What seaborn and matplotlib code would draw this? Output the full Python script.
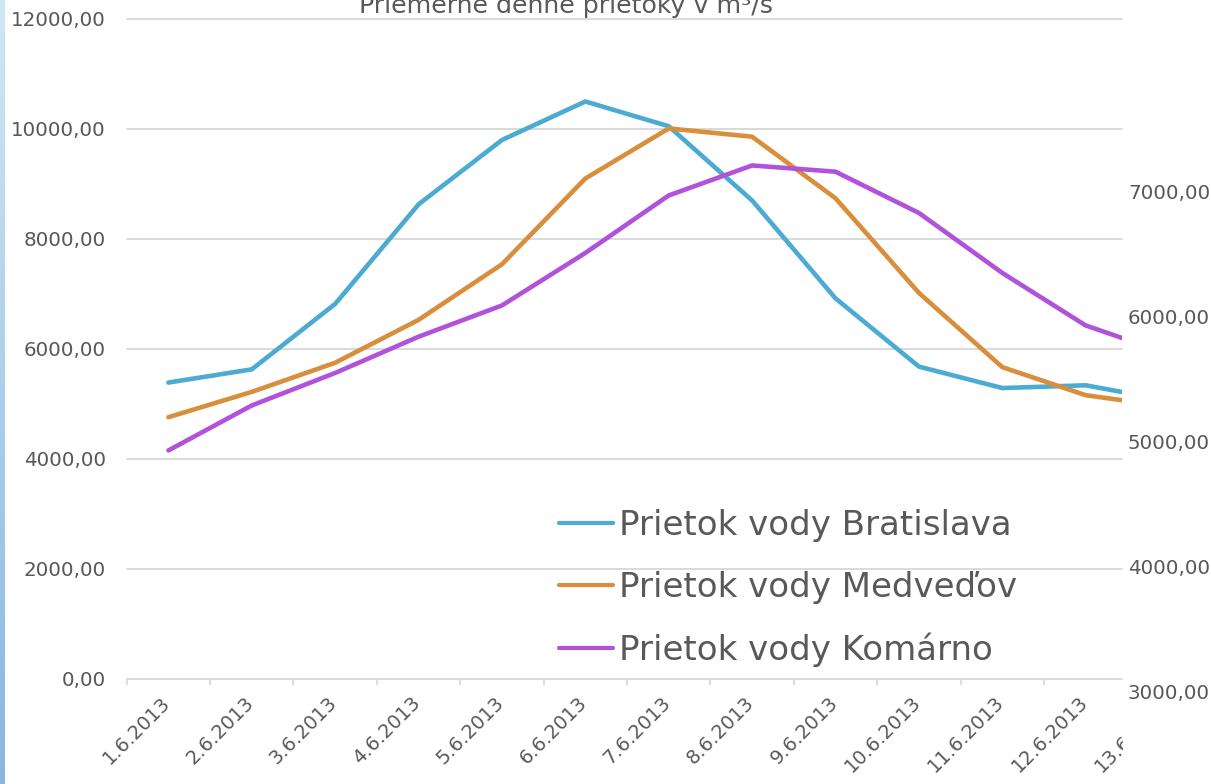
import numpy as np
import pandas as pd
import seaborn as sns
import matplotlib.pyplot as plt
from matplotlib.colors import LinearSegmentedColormap
from matplotlib.transforms import Bbox, offset_copy

## Data (m3/s per day)
dates = ['1.6.2013', '2.6.2013', '3.6.2013', '4.6.2013', '5.6.2013', '6.6.2013', '7.6.2013',
         '8.6.2013', '9.6.2013', '10.6.2013', '11.6.2013', '12.6.2013', '13.6.2013']
bratislava = [5390, 5630, 6820, 8630, 9800, 10500, 10050, 8700, 6920, 5680, 5290, 5340, 5060]
medvedov = [4760, 5220, 5750, 6530, 7540, 9100, 10010, 9860, 8740, 7020, 5670, 5160, 4950]
komarno = [4930, 5290, 5550, 5840, 6090, 6510, 6970, 7210, 7160, 6830, 6350, 5930, 5700]  # right axis

left_ticks = [0, 2000, 4000, 6000, 8000, 10000, 12000]
right_ticks = [3000, 4000, 5000, 6000, 7000]

title = 'Priemerné denné prietoky v m³/s'
labels = ['Prietok vody Bratislava', 'Prietok vody Medveďov', 'Prietok vody Komárno']
colors = ['#4BABD3', '#D98E3B', '#B152DA']
text_col = '#595959'
grid_col = '#D9D9D9'

df = pd.DataFrame({'den': dates, 'pos': np.arange(len(dates)),
                   'Bratislava': bratislava, 'Medvedov': medvedov, 'Komarno': komarno})

sns.set_style('white')
plt.rcParams['font.family'] = ['DejaVu Sans']

W, H = 1211, 784
fig = plt.figure(figsize=(W / 100, H / 100), dpi=100)

# plot area in pixels
x0, x1 = 126.7, 1121.7
y_top, y_bot = 19, 679
ax = fig.add_axes([x0 / W, 1 - y_bot / H, (x1 - x0) / W, (y_bot - y_top) / H])
# secondary axis: its labels sit a bit lower than the primary grid
y2_bot = 700
ax2 = fig.add_axes([x0 / W, 1 - y2_bot / H, (x1 - x0) / W, (y2_bot - y_top) / H])
ax2.patch.set_visible(False)

sns.lineplot(data=df, x='pos', y='Bratislava', ax=ax, color=colors[0], linewidth=3.3,
             solid_capstyle='round', label=labels[0])
sns.lineplot(data=df, x='pos', y='Medvedov', ax=ax, color=colors[1], linewidth=3.3,
             solid_capstyle='round', label=labels[1])
sns.lineplot(data=df, x='pos', y='Komarno', ax=ax2, color=colors[2], linewidth=3.3,
             solid_capstyle='round', label=labels[2])

xlim = (-0.5, (x1 - 168.3) / 83.4)
ax.set_xlim(xlim)
ax2.set_xlim(xlim)
ax.set_ylim(0, 12000)
ax2.set_ylim(3000 - (y2_bot - 691.7) / 0.125, 3000 + (691.7 - y_top) / 0.125)

# primary axis styling
for s in ax.spines.values():
    s.set_visible(False)
for s in ax2.spines.values():
    s.set_visible(False)
ax.set_yticks(left_ticks)
ax.set_yticklabels([f'{v},00' for v in left_ticks])
ax.grid(axis='y', color=grid_col, linewidth=1.4)
for gl in ax.get_ygridlines():
    gl.set_clip_on(False)
ax.tick_params(axis='y', length=0, pad=15, labelsize=14.3, labelcolor=text_col)

lab_shift = 0.07  # rotated labels end slightly right of the category centre
ax.set_xticks(df.pos[:-1] + lab_shift)
ax.set_xticklabels(df.den[:-1])
ax.set_xticks(np.arange(-0.5, 11.5, 1), minor=True)
ax.tick_params(axis='x', which='major', length=0, pad=10, labelsize=14, labelcolor=text_col)
ax.tick_params(axis='x', which='minor', bottom=True, length=4.5, width=1.3, color=grid_col, direction='out')
plt.setp(ax.get_xticklabels(), rotation=45, ha='right')
ax.set_xlabel('')
ax.set_ylabel('')

# last date label is cut by the chart area
t = fig.text(df.pos.iloc[-1] + lab_shift, 0, dates[-1], rotation=45, ha='right', va='top',
             fontsize=14, color=text_col,
             transform=offset_copy(ax.get_xaxis_transform(), fig=fig, y=-10, units='points'))
t.set_clip_on(True)
t.set_clip_box(Bbox([[0, 0], [x1 + 1, H]]))

# secondary axis styling
ax2.xaxis.set_visible(False)
ax2.yaxis.tick_right()
ax2.set_yticks(right_ticks)
ax2.set_yticklabels([f'{v},00' for v in right_ticks])
ax2.tick_params(axis='y', length=0, pad=4.5, labelsize=14.3, labelcolor=text_col)
ax2.grid(False)
ax2.set_ylabel('')

# legend
handles = []
for a in (ax, ax2):
    h, l = a.get_legend_handles_labels()
    handles += h
    if a.get_legend() is not None:
        a.get_legend().remove()
leg = ax2.legend(handles, labels, loc='upper left', bbox_to_anchor=(559 / W, 1 - 509 / H),
                 bbox_transform=fig.transFigure, frameon=False, fontsize=24.5, borderpad=0,
                 borderaxespad=0, handlelength=1.6, handletextpad=0.15, labelspacing=0.84)
for txt in leg.get_texts():
    txt.set_color(text_col)
for ln in leg.get_lines():
    ln.set_linewidth(3.0)

# title, cut at the top of the picture as in the original slide
fig.text(566 / W, 1 - 12.5 / H, title, ha='center', va='baseline', fontsize=18.2, color=text_col)

# thin gradient strip on the left edge
strip = fig.add_axes([0, 0, 5 / W, 1])
cmap = LinearSegmentedColormap.from_list('strip', ['#CFE7F3', '#8AB6E2'])
strip.imshow(np.linspace(0, 1, 256).reshape(-1, 1), aspect='auto', cmap=cmap)
strip.axis('off')

fig.savefig('out.png', dpi=100)
